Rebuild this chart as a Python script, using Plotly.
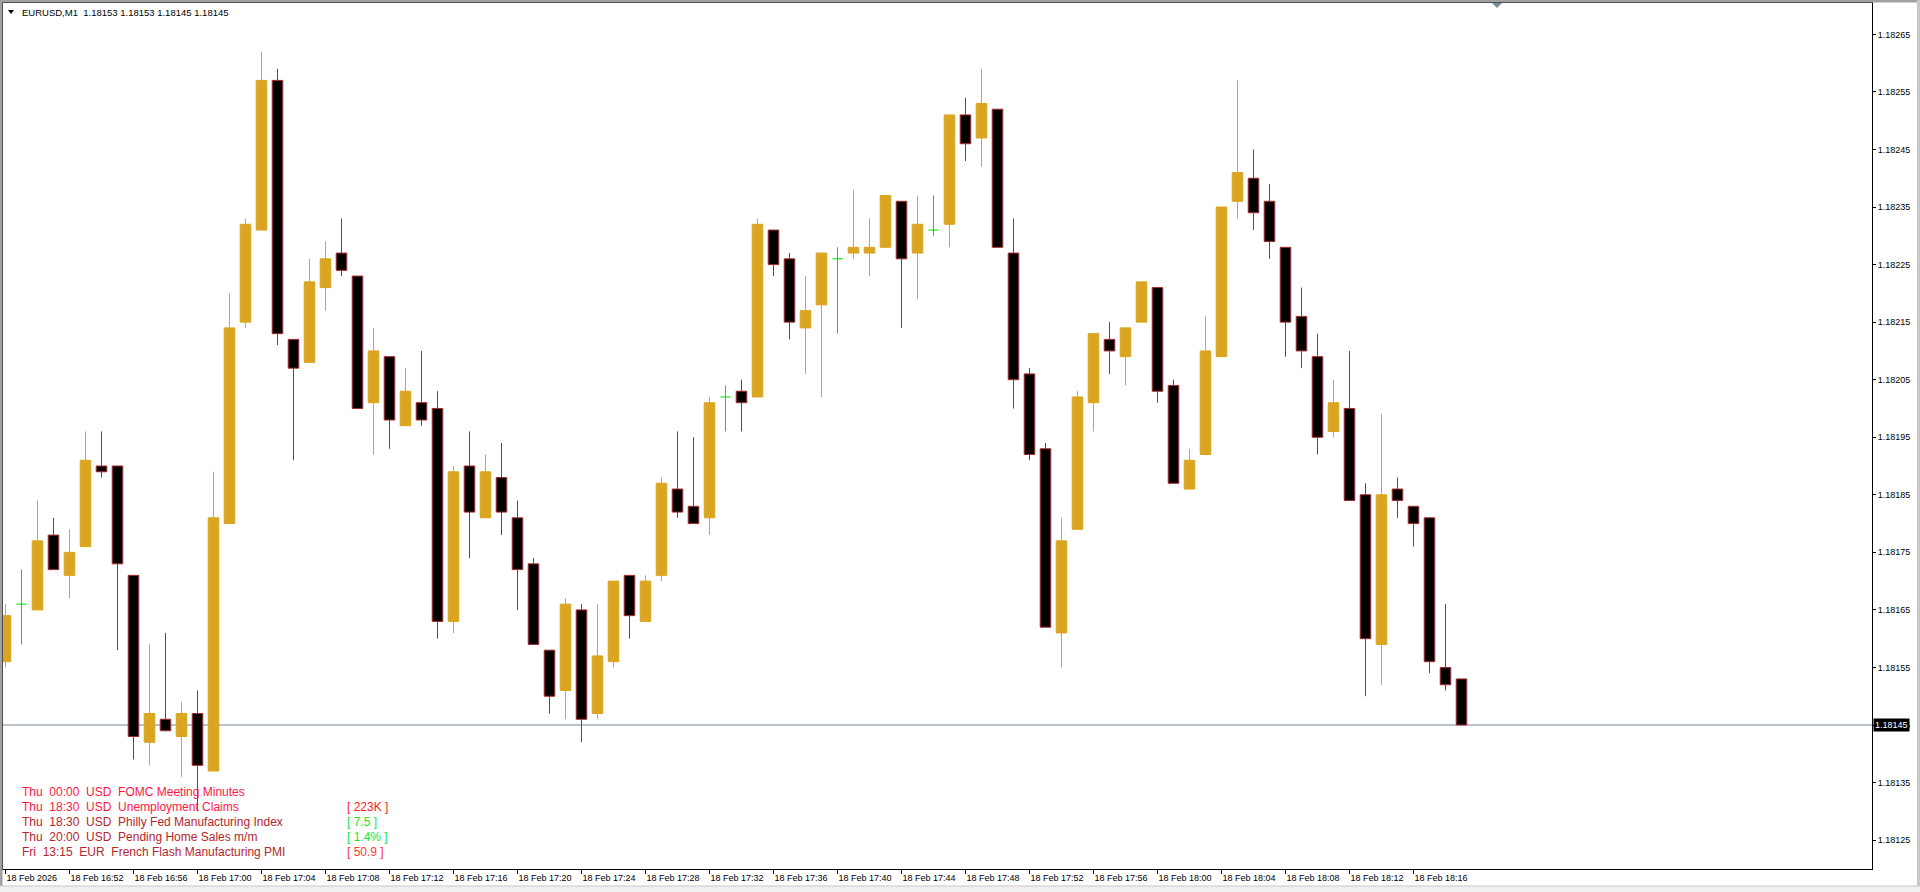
import plotly.graph_objects as go

# ---------------- data (EURUSD M1, 18 Feb 2026 16:48 .. 18:19) ----------------
opens = [1.18156,1.18166,1.18165,1.18178,1.18171,1.18176,1.18190,1.18190,1.18171,1.18142,
         1.18146,1.18143,1.18147,1.18137,1.18180,1.18215,1.18231,1.18257,1.18212,1.18208,
         1.18221,1.18227,1.18223,1.18201,1.18209,1.18197,1.18201,1.18200,1.18163,1.18190,
         1.18181,1.18188,1.18181,1.18173,1.18158,1.18151,1.18165,1.18147,1.18156,1.18171,
         1.18163,1.18171,1.18186,1.18183,1.18181,1.18202,1.18203,1.18202,1.18231,1.18226,
         1.18214,1.18218,1.18226,1.18227,1.18227,1.18228,1.18236,1.18227,1.18231,1.18232,
         1.18251,1.18247,1.18252,1.18227,1.18206,1.18193,1.18161,1.18179,1.18201,1.18212,
         1.18209,1.18215,1.18221,1.18204,1.18186,1.18192,1.18209,1.18236,1.18240,1.18236,
         1.18228,1.18216,1.18209,1.18196,1.18200,1.18185,1.18159,1.18186,1.18183,1.18181,
         1.18155,1.18153]
highs = [1.18166,1.18172,1.18184,1.18181,1.18179,1.18196,1.18196,1.18190,1.18171,1.18159,
         1.18161,1.18149,1.18151,1.18189,1.18220,1.18233,1.18262,1.18259,1.18212,1.18226,
         1.18229,1.18233,1.18223,1.18214,1.18209,1.18207,1.18210,1.18203,1.18190,1.18196,
         1.18192,1.18194,1.18184,1.18174,1.18158,1.18167,1.18166,1.18166,1.18170,1.18171,
         1.18171,1.18188,1.18196,1.18195,1.18202,1.18204,1.18205,1.18233,1.18231,1.18227,
         1.18223,1.18227,1.18228,1.18238,1.18233,1.18237,1.18236,1.18237,1.18237,1.18251,
         1.18254,1.18259,1.18252,1.18233,1.18207,1.18194,1.18181,1.18203,1.18213,1.18215,
         1.18214,1.18222,1.18221,1.18205,1.18193,1.18216,1.18235,1.18257,1.18245,1.18239,
         1.18228,1.18221,1.18213,1.18205,1.18210,1.18187,1.18199,1.18188,1.18183,1.18181,
         1.18166,1.18153]
lows = [1.18155,1.18159,1.18165,1.18172,1.18167,1.18176,1.18188,1.18158,1.18139,1.18138,
        1.18144,1.18136,1.18130,1.18137,1.18180,1.18214,1.18231,1.18211,1.18191,1.18208,
        1.18217,1.18223,1.18200,1.18192,1.18193,1.18197,1.18197,1.18160,1.18161,1.18174,
        1.18181,1.18178,1.18165,1.18159,1.18147,1.18146,1.18142,1.18146,1.18155,1.18160,
        1.18163,1.18170,1.18181,1.18180,1.18178,1.18196,1.18196,1.18202,1.18223,1.18212,
        1.18206,1.18202,1.18213,1.18226,1.18223,1.18228,1.18214,1.18219,1.18230,1.18228,
        1.18243,1.18242,1.18228,1.18200,1.18191,1.18162,1.18155,1.18179,1.18196,1.18206,
        1.18204,1.18215,1.18201,1.18187,1.18186,1.18192,1.18209,1.18233,1.18231,1.18226,
        1.18209,1.18207,1.18192,1.18195,1.18184,1.18150,1.18152,1.18181,1.18176,1.18154,
        1.18151,1.18145]
closes = [1.18164,1.18166,1.18177,1.18172,1.18175,1.18191,1.18189,1.18173,1.18143,1.18147,
          1.18144,1.18147,1.18138,1.18181,1.18214,1.18232,1.18257,1.18213,1.18207,1.18222,
          1.18226,1.18224,1.18200,1.18210,1.18198,1.18203,1.18198,1.18163,1.18189,1.18182,
          1.18189,1.18182,1.18172,1.18159,1.18150,1.18166,1.18146,1.18157,1.18170,1.18164,
          1.18170,1.18187,1.18182,1.18180,1.18201,1.18202,1.18201,1.18232,1.18225,1.18215,
          1.18217,1.18227,1.18226,1.18228,1.18228,1.18237,1.18226,1.18232,1.18231,1.18251,
          1.18246,1.18253,1.18228,1.18205,1.18192,1.18162,1.18177,1.18202,1.18213,1.18210,
          1.18214,1.18222,1.18203,1.18187,1.18191,1.18210,1.18235,1.18241,1.18234,1.18229,
          1.18215,1.18210,1.18195,1.18201,1.18184,1.18160,1.18185,1.18184,1.18180,1.18156,
          1.18152,1.18145]

x_tick_idx = [0, 4, 8, 12, 16, 20, 24, 28, 32, 36, 40, 44, 48, 52, 56, 60, 64, 68, 72, 76, 80, 84, 88]
x_tick_text = ["18 Feb 2026", "18 Feb 16:52", "18 Feb 16:56", "18 Feb 17:00", "18 Feb 17:04",
               "18 Feb 17:08", "18 Feb 17:12", "18 Feb 17:16", "18 Feb 17:20", "18 Feb 17:24",
               "18 Feb 17:28", "18 Feb 17:32", "18 Feb 17:36", "18 Feb 17:40", "18 Feb 17:44",
               "18 Feb 17:48", "18 Feb 17:52", "18 Feb 17:56", "18 Feb 18:00", "18 Feb 18:04",
               "18 Feb 18:08", "18 Feb 18:12", "18 Feb 18:16"]
y_tick_vals = [1.18125, 1.18135, 1.18145, 1.18155, 1.18165, 1.18175, 1.18185, 1.18195,
               1.18205, 1.18215, 1.18225, 1.18235, 1.18245, 1.18255, 1.18265]
last_price = 1.18145
title_text = "EURUSD,M1  1.18153 1.18153 1.18145 1.18145"

event_text = ["Thu  00:00  USD  FOMC Meeting Minutes",
              "Thu  18:30  USD  Unemployment Claims",
              "Thu  18:30  USD  Philly Fed Manufacturing Index",
              "Thu  20:00  USD  Pending Home Sales m/m",
              "Fri  13:15  EUR  French Flash Manufacturing PMI"]
event_values = ["", "[ 223K ]", "[ 7.5 ]", "[ 1.4% ]", "[ 50.9 ]"]
event_colors = ["#FF1744", "#FF1744", "#B5252E", "#B5252E", "#B5252E"]
value_colors = ["#FF2020", "#FF2020", "#22E622", "#22E622", "#FF3838"]

# ---------------- style ----------------
GOLD = "#DAA520"
BEAR_LINE = "#A52A2A"
DOJI = "#00E000"
W, H = 1920, 892
ML, MR, MT, MB = 3, 48, 3, 23
PW, PH = W - ML - MR, H - MT - MB
BAR_PX = 16.0
X0 = -2.5 / BAR_PX
X1 = X0 + PW / BAR_PX
Y_LO, Y_HI = 1.1811998, 1.1827045
BODY_W = 0.66


def px(xp):
    return (xp - ML) / PW


def py(yp):
    return (H - MB - yp) / PH


def nb(s):
    return s.replace("  ", " \u00a0")


fig = go.Figure()

bull = [i for i in range(len(opens)) if closes[i] > opens[i]]
bear = [i for i in range(len(opens)) if closes[i] < opens[i]]
doji = [i for i in range(len(opens)) if closes[i] == opens[i]]


def wick_xy(idx):
    xs, ys = [], []
    for i in idx:
        top, bot = max(opens[i], closes[i]), min(opens[i], closes[i])
        if highs[i] > top:
            xs += [i, i, None]
            ys += [top, highs[i], None]
        if lows[i] < bot:
            xs += [i, i, None]
            ys += [lows[i], bot, None]
    return xs, ys


for idx, col in ((bull, GOLD), (bear, BEAR_LINE)):
    wx, wy = wick_xy(idx)
    fig.add_trace(go.Scatter(x=wx, y=wy, mode="lines", line=dict(color=col, width=1),
                             hoverinfo="skip"))

fig.add_trace(go.Bar(x=bull, y=[closes[i] - opens[i] for i in bull], base=[opens[i] for i in bull],
                     width=BODY_W, marker=dict(color=GOLD, line=dict(color=GOLD, width=1))))
fig.add_trace(go.Bar(x=bear, y=[opens[i] - closes[i] for i in bear], base=[closes[i] for i in bear],
                     width=BODY_W, marker=dict(color="#000000", line=dict(color=BEAR_LINE, width=1))))

dx, dy = [], []
for i in doji:
    dx += [i, i, None, i - BODY_W / 2, i + BODY_W / 2, None]
    dy += [lows[i], highs[i], None, opens[i], opens[i], None]
fig.add_trace(go.Scatter(x=dx, y=dy, mode="lines", line=dict(color=DOJI, width=1), hoverinfo="skip"))

shapes = [
    dict(type="line", xref="paper", yref="y", x0=0, x1=1, y0=last_price, y1=last_price,
         line=dict(color="#778899", width=1), layer="below"),
    # window borders
    dict(type="rect", xref="paper", yref="paper", x0=px(0), x1=px(W), y0=py(0), y1=py(2.5),
         fillcolor="#A0A0A0", line=dict(width=0)),
    dict(type="rect", xref="paper", yref="paper", x0=px(0), x1=px(2.5), y0=py(0), y1=py(H),
         fillcolor="#A0A0A0", line=dict(width=0)),
    dict(type="rect", xref="paper", yref="paper", x0=px(0), x1=px(W), y0=py(886), y1=py(H),
         fillcolor="#F0F0F0", line=dict(width=0)),
    dict(type="line", xref="paper", yref="paper", x0=px(0), x1=px(W), y0=py(886), y1=py(886),
         line=dict(color="#C8C8C8", width=1)),
    dict(type="rect", xref="paper", yref="paper", x0=px(1917), x1=px(W), y0=py(0), y1=py(886),
         fillcolor="#C8C8C8", line=dict(width=0)),
    # title triangle
    dict(type="path", xref="paper", yref="paper",
         path="M {} {} L {} {} L {} {} Z".format(px(8), py(10), px(14), py(10), px(11), py(14)),
         fillcolor="#000000", line=dict(color="#000000", width=0)),
    # shift marker
    dict(type="path", xref="paper", yref="paper",
         path="M {} {} L {} {} L {} {} Z".format(px(1492), py(3), px(1502), py(3), px(1497), py(8)),
         fillcolor="#7A8A9E", line=dict(color="#7A8A9E", width=0)),
]

annotations = [
    dict(xref="paper", yref="paper", x=px(20), y=py(13), xanchor="left", yanchor="middle",
         text=nb(title_text), showarrow=False,
         font=dict(family="Liberation Sans, Arial", size=9.5, color="#000000")),
    dict(xref="paper", yref="y", x=1, xshift=1, y=last_price, xanchor="left", yanchor="middle",
         text=str(last_price), showarrow=False, bgcolor="#000000", borderpad=1,
         font=dict(family="Liberation Sans, Arial", size=9, color="#FFFFFF")),
]
for k, (t, v) in enumerate(zip(event_text, event_values)):
    yy = py(792 + 15 * k)
    annotations.append(dict(xref="paper", yref="paper", x=px(20), y=yy, xanchor="left", yanchor="middle",
                            text=nb(t), showarrow=False,
                            font=dict(family="Liberation Sans, Arial", size=12, color=event_colors[k])))
    if v:
        annotations.append(dict(xref="paper", yref="paper", x=px(345), y=yy, xanchor="left",
                                yanchor="middle", text=v, showarrow=False,
                                font=dict(family="Liberation Sans, Arial", size=12, color=value_colors[k])))

fig.update_layout(
    width=W, height=H, margin=dict(l=ML, r=MR, t=MT, b=MB, pad=0),
    paper_bgcolor="#FFFFFF", plot_bgcolor="#FFFFFF", showlegend=False, barmode="overlay",
    shapes=shapes, annotations=annotations,
    xaxis=dict(range=[X0, X1], tickmode="array", tickvals=x_tick_idx, ticktext=x_tick_text,
               ticks="outside", ticklen=4, tickwidth=1, tickcolor="#000000",
               showline=True, linecolor="#000000", linewidth=1, mirror=True,
               showgrid=False, zeroline=False, ticklabelposition="outside right",
               tickfont=dict(family="Liberation Sans, Arial", size=9, color="#000000"),
               fixedrange=True),
    yaxis=dict(range=[Y_LO, Y_HI], side="right", tickmode="array", tickvals=y_tick_vals,
               ticktext=["%.5f" % v for v in y_tick_vals],
               ticks="outside", ticklen=3, tickwidth=1, tickcolor="#000000",
               showline=True, linecolor="#000000", linewidth=1, mirror=True,
               showgrid=False, zeroline=False,
               tickfont=dict(family="Liberation Sans, Arial", size=9, color="#000000"),
               fixedrange=True),
)

fig.write_html("out.html", config={"displayModeBar": False},
               post_script="document.body.style.margin='0';document.body.style.overflow='hidden';")
